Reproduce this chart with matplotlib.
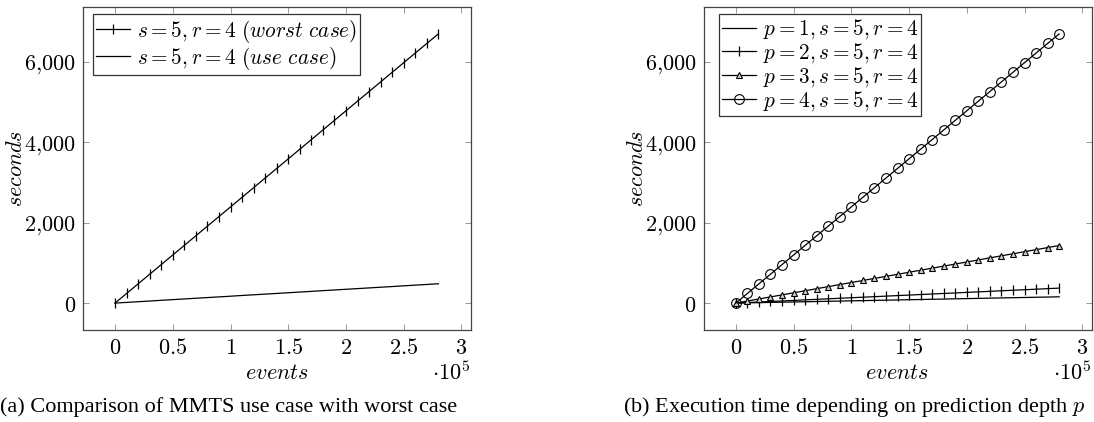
import numpy as np
import matplotlib
matplotlib.use('Agg')
import matplotlib.pyplot as plt
from matplotlib.ticker import FuncFormatter

plt.rcParams['mathtext.fontset'] = 'cm'
plt.rcParams['font.family'] = 'DejaVu Serif'

# events measured every 10,000 up to 280,000
events = [i * 10000 for i in range(29)]

# (a) worst case vs use case, seconds
worst_case = [0, 239, 478, 717, 956, 1195, 1434, 1673, 1912, 2151, 2390, 2629,
              2868, 3107, 3346, 3585, 3824, 4063, 4302, 4541, 4780, 5019, 5258,
              5497, 5736, 5975, 6214, 6453, 6690]
use_case = [0, 17, 34, 51, 69, 86, 103, 120, 137, 154, 171, 189, 206, 223, 240,
            257, 274, 291, 309, 326, 343, 360, 377, 394, 411, 429, 446, 463, 480]

# (b) prediction depth p = 1..4, seconds
p1 = [0, 6, 11, 17, 22, 28, 33, 39, 45, 50, 56, 61, 67, 72, 78, 84, 89, 95,
      100, 106, 111, 117, 123, 128, 134, 139, 145, 150, 156]
p2 = [0, 13, 27, 40, 53, 66, 80, 93, 106, 120, 133, 146, 159, 173, 186, 199,
      213, 226, 239, 252, 266, 279, 292, 306, 319, 332, 345, 359, 372]
p3 = [0, 51, 102, 153, 204, 255, 306, 358, 409, 460, 511, 562, 613, 664, 715,
      766, 817, 868, 919, 970, 1021, 1072, 1124, 1175, 1226, 1277, 1328, 1379, 1430]
p4 = worst_case

legend_a = [r'$s = 5, r = 4\ (worst\ case)$', r'$s = 5, r = 4\ (use\ case)$']
legend_b = [r'$p = %d, s = 5, r = 4$' % p for p in range(1, 5)]

W, H = 1094, 422
fig = plt.figure(figsize=(W / 100, H / 100), dpi=100)
ax_a = fig.add_axes([82.7 / W, 1 - 330 / H, 388 / W, 323 / H])
ax_b = fig.add_axes([703.5 / W, 1 - 330 / H, 388 / W, 323 / H])

FS = 16
LFS = 15.3


def style_axes(ax):
    ax.set_xlim(-28000, 308000)
    ax.set_ylim(-669, 7359)
    ax.set_xticks([0, 50000, 100000, 150000, 200000, 250000, 300000])
    ax.set_yticks([0, 2000, 4000, 6000])
    ax.xaxis.set_major_formatter(FuncFormatter(lambda v, pos: r'$%g$' % (v / 1e5)))
    ax.yaxis.set_major_formatter(FuncFormatter(
        lambda v, pos: r'$%s$' % format(int(v), ',').replace(',', '{,}')))
    ax.tick_params(direction='in', length=4.5, width=0.6, color='#888888',
                   top=True, right=True, labelsize=FS)
    ax.tick_params(axis='x', pad=5)
    ax.tick_params(axis='y', pad=5)
    for s in ax.spines.values():
        s.set_color('#444444')
        s.set_linewidth(0.9)
    ax.set_xlabel(r'$events$', fontsize=FS, va='center')
    ax.xaxis.set_label_coords(0.5, -0.133)
    ax.set_ylabel(r'$seconds$', fontsize=FS, va='center')
    ax.yaxis.set_label_coords(-0.172, 0.5)
    ax.text(1.0, -0.133, r'$\cdot 10^5$', transform=ax.transAxes, ha='right',
            va='center', fontsize=FS)


def add_legend(ax, x0):
    leg = ax.legend(loc='upper left', bbox_to_anchor=(x0, 0.977), fontsize=LFS,
                    frameon=True, fancybox=False, edgecolor='#333333',
                    framealpha=1, handlelength=1.6, handletextpad=0.3,
                    borderpad=0.15, labelspacing=0.0, borderaxespad=0)
    leg.get_frame().set_linewidth(0.9)


lw = 0.9
ax_a.plot(events, worst_case, color='black', lw=lw, marker='|', ms=7, mew=0.9,
          label=legend_a[0])
ax_a.plot(events, use_case, color='black', lw=lw, label=legend_a[1])
style_axes(ax_a)
add_legend(ax_a, 0.027)

ax_b.plot(events, p1, color='black', lw=lw, label=legend_b[0])
ax_b.plot(events, p2, color='black', lw=lw, marker='|', ms=7, mew=0.9,
          label=legend_b[1])
ax_b.plot(events, p3, color='black', lw=lw, marker='^', ms=5, mew=0.8,
          mfc='#d0d0d0', label=legend_b[2])
ax_b.plot(events, p4, color='black', lw=lw, marker='o', ms=7, mew=0.8,
          mfc='none', label=legend_b[3])
style_axes(ax_b)
add_legend(ax_b, 0.04)

cap = dict(fontsize=16, family='Liberation Serif', va='center')
fig.text(0 / W, 1 - 407 / H, '(a) Comparison of MMTS use case with worst case',
         ha='left', **cap)
fig.text(622.7 / W, 1 - 407 / H,
         '(b) Execution time depending on prediction depth $\\it{p}$',
         ha='left', **cap)

fig.savefig('out.png', dpi=100)
